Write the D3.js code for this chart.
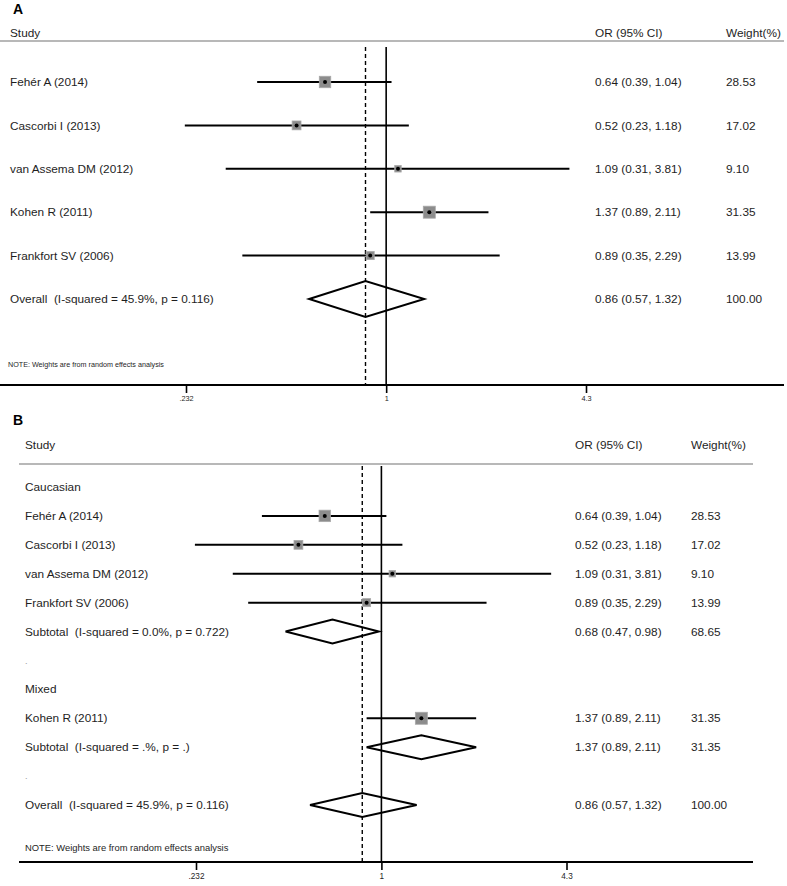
<!DOCTYPE html>
<html>
<head>
<meta charset="utf-8">
<script src="https://cdn.jsdelivr.net/npm/d3@7"></script>
<style>
  html, body { margin: 0; padding: 0; background: #fff; }
  svg { display: block; }
  text { font-family: "Liberation Sans", Arial, sans-serif; fill: #1e1e1e; white-space: pre; }
</style>
</head>
<body>
<svg id="chart" width="787" height="886"></svg>
<script>
// ---------- Data ----------
const tickValues = [0.232, 1, 4.3];
const tickLabels = [".232", "1", "4.3"];

// Panel A
const studiesA = ["Fehér A (2014)", "Cascorbi I (2013)", "van Assema DM (2012)", "Kohen R (2011)", "Frankfort SV (2006)"];
const orA = [0.64, 0.52, 1.09, 1.37, 0.89];
const lowA = [0.39, 0.23, 0.31, 0.89, 0.35];
const highA = [1.04, 1.18, 3.81, 2.11, 2.29];
const weightA = [28.53, 17.02, 9.10, 31.35, 13.99];
const overallLabel = "Overall  (I-squared = 45.9%, p = 0.116)";
const overallOR = 0.86, overallLow = 0.57, overallHigh = 1.32, overallWeight = 100.00;

// Panel B
const labelsB = ["Caucasian", "Fehér A (2014)", "Cascorbi I (2013)", "van Assema DM (2012)", "Frankfort SV (2006)",
  "Subtotal  (I-squared = 0.0%, p = 0.722)", ".", "Mixed", "Kohen R (2011)",
  "Subtotal  (I-squared = .%, p = .)", ".", "Overall  (I-squared = 45.9%, p = 0.116)"];
const typesB = ["group", "study", "study", "study", "study", "pooled", "blank", "group", "study", "pooled", "blank", "pooled"];
const orB = [null, 0.64, 0.52, 1.09, 0.89, 0.68, null, null, 1.37, 1.37, null, 0.86];
const lowB = [null, 0.39, 0.23, 0.31, 0.35, 0.47, null, null, 0.89, 0.89, null, 0.57];
const highB = [null, 1.04, 1.18, 3.81, 2.29, 0.98, null, null, 2.11, 2.11, null, 1.32];
const weightB = [null, 28.53, 17.02, 9.10, 13.99, 68.65, null, null, 31.35, 31.35, null, 100.00];

const noteText = "NOTE: Weights are from random effects analysis";

// ---------- Drawing ----------
const svg = d3.select("#chart");
const fmt2 = d3.format(".2f");
const orText = (o, l, h) => `${fmt2(o)} (${fmt2(l)}, ${fmt2(h)})`;
const squareSide = d3.scaleSqrt().domain([0, 31.35]).range([0, 12]);

function drawPanel(cfg) {
  const g = svg.append("g");
  const x = d3.scaleLog().domain([tickValues[0], tickValues[2]]).range(cfg.xRange);
  const y = d3.scaleLinear().domain([0, cfg.labels.length - 1]).range(cfg.yRange);

  // Panel letter
  g.append("text").attr("x", cfg.letterX).attr("y", cfg.letterY)
    .attr("font-size", 14).attr("font-weight", "bold").attr("fill", "#000")
    .style("fill", "#000").text(cfg.letter);

  // Header
  g.append("text").attr("x", cfg.labelX).attr("y", cfg.headerY).attr("dy", "0.35em")
    .attr("font-size", 11.8).text("Study");
  g.append("text").attr("x", cfg.orX).attr("y", cfg.headerY).attr("dy", "0.35em")
    .attr("font-size", 11.8).text("OR (95% CI)");
  g.append("text").attr("x", cfg.wX).attr("y", cfg.headerY).attr("dy", "0.35em")
    .attr("font-size", 11.8).text("Weight(%)");
  g.append("line").attr("x1", cfg.lineX[0]).attr("x2", cfg.lineX[1])
    .attr("y1", cfg.headerLineY).attr("y2", cfg.headerLineY)
    .attr("stroke", "#a0a0a0").attr("stroke-width", 1.5);

  // Reference lines
  g.append("line").attr("x1", x(1)).attr("x2", x(1))
    .attr("y1", cfg.vTop).attr("y2", cfg.axisY)
    .attr("stroke", "#000").attr("stroke-width", 1.6);
  g.append("line").attr("x1", x(overallOR)).attr("x2", x(overallOR))
    .attr("y1", cfg.vTop).attr("y2", cfg.axisY)
    .attr("stroke", "#000").attr("stroke-width", 1.4).attr("stroke-dasharray", "4,3");

  // Rows
  cfg.labels.forEach((lab, i) => {
    const yy = y(i);
    const t = cfg.types[i];
    g.append("text").attr("x", cfg.labelX).attr("y", yy).attr("dy", "0.35em")
      .attr("font-size", t === "blank" ? 9 : 11.8)
      .style("fill", t === "blank" ? "#999" : "#1e1e1e")
      .text(lab);
    if (t === "study") {
      g.append("line").attr("x1", x(cfg.low[i])).attr("x2", x(cfg.high[i]))
        .attr("y1", yy).attr("y2", yy).attr("stroke", "#000").attr("stroke-width", 2);
      const s = squareSide(cfg.w[i]);
      g.append("rect").attr("x", x(cfg.or[i]) - s / 2).attr("y", yy - s / 2)
        .attr("width", s).attr("height", s).attr("fill", "#8c8c8c")
        .attr("stroke", "#a8a8a8").attr("stroke-width", 0.8);
      g.append("circle").attr("cx", x(cfg.or[i])).attr("cy", yy).attr("r", 2).attr("fill", "#000");
    } else if (t === "pooled") {
      const h = cfg.diamondH;
      const pts = [[x(cfg.low[i]), yy], [x(cfg.or[i]), yy - h], [x(cfg.high[i]), yy], [x(cfg.or[i]), yy + h]];
      g.append("path").attr("d", "M" + pts.map(p => p.join(",")).join("L") + "Z")
        .attr("fill", "none").attr("stroke", "#000").attr("stroke-width", 2);
    }
    if (t === "study" || t === "pooled") {
      g.append("text").attr("x", cfg.orX).attr("y", yy).attr("dy", "0.35em")
        .attr("font-size", 11.8).text(orText(cfg.or[i], cfg.low[i], cfg.high[i]));
      g.append("text").attr("x", cfg.wX).attr("y", yy).attr("dy", "0.35em")
        .attr("font-size", 11.8).text(fmt2(cfg.w[i]));
    }
  });

  // Note
  g.append("text").attr("x", cfg.noteX).attr("y", cfg.noteY).attr("dy", "0.35em")
    .attr("font-size", cfg.noteSize).text(noteText);

  // Axis
  g.append("line").attr("x1", cfg.lineX[0]).attr("x2", cfg.axisEnd)
    .attr("y1", cfg.axisY).attr("y2", cfg.axisY).attr("stroke", "#000").attr("stroke-width", 2);
  const axis = d3.axisBottom(x).tickValues(tickValues)
    .tickFormat((d, i) => tickLabels[i]).tickSize(8).tickPadding(3);
  const ag = g.append("g").attr("transform", `translate(0,${cfg.axisY})`).call(axis);
  ag.select(".domain").remove();
  ag.selectAll(".tick line").attr("stroke", "#000").attr("stroke-width", 1.6);
  ag.selectAll(".tick text").attr("font-size", cfg.tickSize)
    .attr("font-family", "Liberation Sans, Arial, sans-serif").style("fill", "#1e1e1e");
}

drawPanel({
  letter: "A", letterX: 13, letterY: 14,
  labels: studiesA.concat([overallLabel]),
  types: studiesA.map(() => "study").concat(["pooled"]),
  or: orA.concat([overallOR]), low: lowA.concat([overallLow]),
  high: highA.concat([overallHigh]), w: weightA.concat([overallWeight]),
  xRange: [186, 586], yRange: [82, 299],
  labelX: 10, orX: 595, wX: 726, headerY: 33, headerLineY: 41, lineX: [0, 784],
  vTop: 47, axisY: 385, axisEnd: 784, diamondH: 18,
  noteX: 8, noteY: 364, noteSize: 7.2, tickSize: 7.3
});

drawPanel({
  letter: "B", letterX: 13, letterY: 425,
  labels: labelsB, types: typesB, or: orB, low: lowB, high: highB, w: weightB,
  xRange: [196, 566.5], yRange: [487, 805],
  labelX: 25, orX: 575, wX: 691, headerY: 445, headerLineY: 464, lineX: [19, 753],
  vTop: 466, axisY: 862, axisEnd: 753, diamondH: 12,
  noteX: 25, noteY: 848, noteSize: 9.4, tickSize: 8.2
});
</script>
</body>
</html>
